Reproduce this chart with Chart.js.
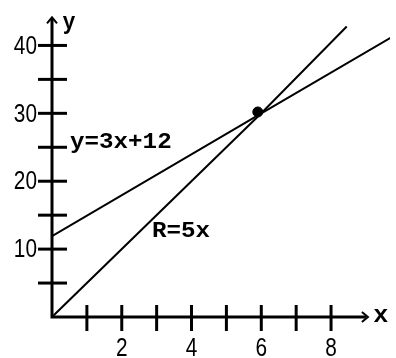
<!DOCTYPE html>
<html>
<head>
<meta charset="utf-8">
<script src="https://cdn.jsdelivr.net/npm/chart.js@4/dist/chart.umd.min.js"></script>
<style>
  html, body { margin: 0; padding: 0; background: #fff; }
  #wrap { width: 396px; height: 358px; }
</style>
</head>
<body>
<div id="wrap"><canvas id="myChart" width="396" height="358"></canvas></div>
<script>
// lineas: R = 5x  y  y = 3x + 12
const puntosR = [[0, 0], [6, 30], [8.45, 42.8]];
const puntosY = [[0, 11.9], [6, 30], [9.8, 41.4]];
const cruce = [[5.9, 30.2]];

// marcas de los ejes
const marcasX = [1, 2, 3, 4, 5, 6, 7, 8];
const etiquetasX = [2, 4, 6, 8];
const marcasY = [5, 10, 15, 20, 25, 30, 35, 40];
const etiquetasY = [10, 20, 30, 40];

const finEjeX = 9;
const finEjeY = 44;

const aPuntos = arr => arr.map(p => ({ x: p[0], y: p[1] }));

function texto(ctx, t, x, y, size, sx, align, bold) {
  ctx.save();
  ctx.translate(x, y);
  ctx.scale(sx, 1);
  ctx.font = (bold ? 'bold ' : '') + size + 'px "Liberation Mono", monospace';
  ctx.textAlign = align;
  ctx.textBaseline = 'middle';
  ctx.fillStyle = '#000';
  ctx.fillText(t, 0, 0);
  ctx.restore();
}

function numero(ctx, t, x, y, align) {
  ctx.save();
  ctx.translate(x, y);
  ctx.scale(0.8, 1);
  ctx.font = '26px "Liberation Sans", sans-serif';
  ctx.textAlign = align;
  ctx.textBaseline = 'middle';
  ctx.fillStyle = '#000';
  ctx.fillText(t, 0, 0);
  ctx.restore();
}

// ejes con flechas, marcas y textos
const ejes = {
  id: 'ejes',
  afterDraw(chart) {
    const ctx = chart.ctx;
    const sx = chart.scales.x, sy = chart.scales.y;
    const x0 = sx.getPixelForValue(0), y0 = sy.getPixelForValue(0);
    const xf = sx.getPixelForValue(finEjeX), yf = sy.getPixelForValue(finEjeY);

    ctx.save();
    ctx.strokeStyle = '#000';
    ctx.lineWidth = 3;
    ctx.lineCap = 'butt';
    ctx.beginPath();
    ctx.moveTo(x0 - 1.5, y0);
    ctx.lineTo(xf, y0);
    ctx.moveTo(x0, y0 + 1.5);
    ctx.lineTo(x0, yf);
    ctx.stroke();

    marcasX.forEach(v => {
      const px = sx.getPixelForValue(v);
      ctx.beginPath();
      ctx.moveTo(px, y0 - 12);
      ctx.lineTo(px, y0 + 14);
      ctx.stroke();
    });
    marcasY.forEach(v => {
      const py = sy.getPixelForValue(v);
      ctx.beginPath();
      ctx.moveTo(x0 - 14, py);
      ctx.lineTo(x0 + 15, py);
      ctx.stroke();
    });

    // puntas de flecha
    ctx.lineWidth = 2;
    ctx.beginPath();
    ctx.moveTo(xf - 4, y0 - 5);
    ctx.lineTo(xf + 2, y0);
    ctx.lineTo(xf - 4, y0 + 5);
    ctx.moveTo(x0 - 5, yf + 5);
    ctx.lineTo(x0, yf - 1);
    ctx.lineTo(x0 + 5, yf + 5);
    ctx.stroke();
    ctx.restore();

    etiquetasX.forEach(v => numero(ctx, String(v), sx.getPixelForValue(v), y0 + 32, 'center'));
    etiquetasY.forEach(v => numero(ctx, String(v), x0 - 15, sy.getPixelForValue(v) + 1, 'right'));

    texto(ctx, 'x', xf + 15, y0 - 1, 24, 1.05, 'center', true);
    texto(ctx, 'y', x0 + 17, yf + 5, 24, 0.9, 'center', true);
    texto(ctx, 'y=3x+12', 70, 142, 22, 1.1, 'left', true);
    texto(ctx, 'R=5x', 152, 231, 22, 1.1, 'left', true);
  }
};

const ctx = document.getElementById('myChart');
new Chart(ctx, {
  type: 'scatter',
  data: {
    datasets: [
      {
        data: aPuntos(puntosR),
        showLine: true,
        borderColor: '#000',
        borderWidth: 2,
        pointRadius: 0
      },
      {
        data: aPuntos(puntosY),
        showLine: true,
        borderColor: '#000',
        borderWidth: 2,
        pointRadius: 0
      },
      {
        data: aPuntos(cruce),
        pointRadius: 5,
        pointBackgroundColor: '#000',
        pointBorderColor: '#000'
      }
    ]
  },
  options: {
    responsive: false,
    animation: false,
    layout: { padding: { left: 52, right: 0, top: 0, bottom: 41 } },
    scales: {
      x: { type: 'linear', min: 0, max: 344 / 35.5, display: false },
      y: { type: 'linear', min: 0, max: 317 / 6.92, display: false }
    },
    plugins: {
      legend: { display: false },
      tooltip: { enabled: false }
    }
  },
  plugins: [ejes]
});
</script>
</body>
</html>
